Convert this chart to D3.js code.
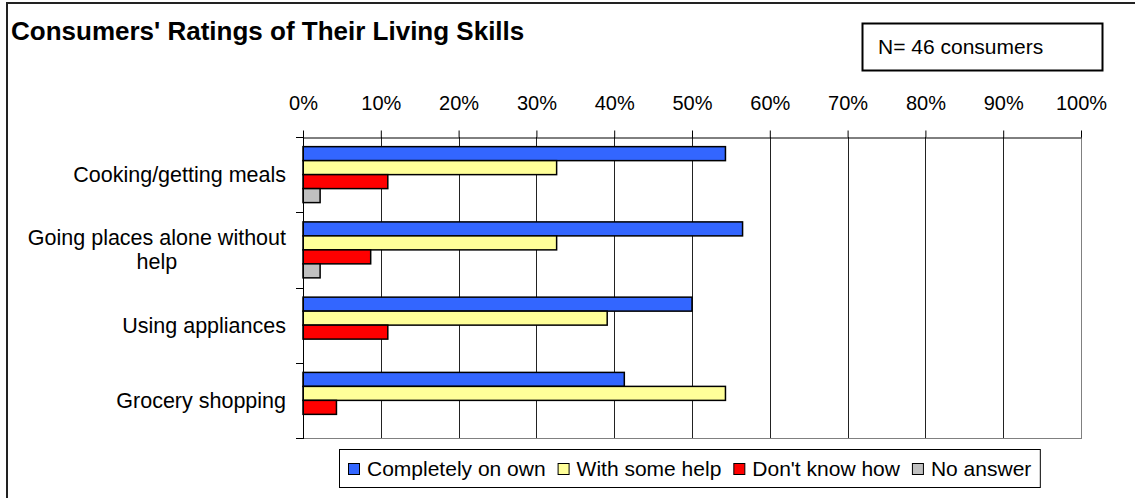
<!DOCTYPE html>
<html>
<head>
<meta charset="utf-8">
<script src="https://cdn.jsdelivr.net/npm/d3@7"></script>
<style>
  body { margin: 0; background: #fff; }
  svg text { font-family: "Liberation Sans", Arial, sans-serif; fill: #000; }
</style>
</head>
<body>
<div class="chart"></div>
<script>
//Canvas size
var width = 1135,
    height = 498;

//Plot area inside the canvas
var plot = { left: 303, right: 1081, top: 137, bottom: 438 };

//Data: share of the 46 consumers in each answer group
var categories = ["Cooking/getting meals", "Going places alone without help", "Using appliances", "Grocery shopping"];
var series = ["Completely on own", "With some help", "Don't know how", "No answer"];
var completelyOnOwn = [0.543, 0.565, 0.500, 0.413];
var withSomeHelp = [0.326, 0.326, 0.391, 0.543];
var dontKnowHow = [0.109, 0.087, 0.109, 0.043];
var noAnswer = [0.022, 0.022, 0, 0];
var xTicks = [0, 0.1, 0.2, 0.3, 0.4, 0.5, 0.6, 0.7, 0.8, 0.9, 1];
var colors = ["#3366ff", "#ffff99", "#ff0000", "#c0c0c0"];

var values = [completelyOnOwn, withSomeHelp, dontKnowHow, noAnswer];

//SVG canvas
var svg = d3.select(".chart")
            .append("svg")
            .attr("width", width)
            .attr("height", height);

//Outer chart frame (cut off on the right and bottom like the original)
svg.append("rect")
   .attr("x", 7)
   .attr("y", 3)
   .attr("width", width + 10)
   .attr("height", height + 10)
   .attr("fill", "none")
   .attr("stroke", "#222")
   .attr("stroke-width", 2);

//Title
svg.append("text")
   .attr("x", 11)
   .attr("y", 40)
   .style("font-size", "26px")
   .style("font-weight", "bold")
   .text("Consumers' Ratings of Their Living Skills");

//N box
svg.append("rect")
   .attr("x", 862.5)
   .attr("y", 23.5)
   .attr("width", 240)
   .attr("height", 47)
   .attr("fill", "#fff")
   .attr("stroke", "#000")
   .attr("stroke-width", 2);

svg.append("text")
   .attr("x", 878)
   .attr("y", 54)
   .style("font-size", "21px")
   .text("N= 46 consumers");

//Scales
var x = d3.scaleLinear().domain([0, 1]).range([plot.left, plot.right]);
var y = d3.scaleBand().domain(categories).range([plot.top, plot.bottom]);
var ySeries = d3.scaleBand().domain(series).range([0, y.bandwidth()]).paddingOuter(0.69);

//Gridlines
svg.append("g")
   .selectAll("line")
   .data(xTicks.slice(1))
   .enter()
   .append("line")
   .attr("x1", function(d) { return Math.round(x(d)) + 0.5; })
   .attr("x2", function(d) { return Math.round(x(d)) + 0.5; })
   .attr("y1", plot.top)
   .attr("y2", plot.bottom)
   .attr("stroke", function(d) { return d === 1 ? "#808080" : "#222"; })
   .attr("stroke-width", 1);

//Plot area bottom border
svg.append("line")
   .attr("x1", plot.left)
   .attr("x2", plot.right + 1)
   .attr("y1", plot.bottom + 0.5)
   .attr("y2", plot.bottom + 0.5)
   .attr("stroke", "#808080");

//Bars
var groups = svg.append("g")
                .selectAll("g")
                .data(series)
                .enter()
                .append("g")
                .attr("fill", function(d, i) { return colors[i]; });

groups.selectAll("rect")
      .data(function(s, i) {
        return values[i].map(function(v, j) { return { series: s, category: categories[j], value: v }; });
      })
      .enter()
      .filter(function(d) { return d.value > 0; })
      .append("rect")
      .attr("x", x(0))
      .attr("y", function(d) { return y(d.category) + ySeries(d.series); })
      .attr("width", function(d) { return x(d.value) - x(0); })
      .attr("height", ySeries.bandwidth())
      .attr("stroke", "#000")
      .attr("stroke-width", 1.5);

//Top axis
var xAxis = svg.append("g")
               .attr("transform", "translate(0," + (plot.top + 0.5) + ")")
               .call(d3.axisTop(x).tickValues(xTicks).tickFormat(d3.format(".0%")).tickSizeInner(7).tickSizeOuter(0).tickPadding(21));

xAxis.select(".domain").attr("stroke", "#000");
xAxis.selectAll(".tick line").attr("stroke", "#000");
xAxis.selectAll(".tick text")
     .style("font-size", "20px")
     .attr("font-family", null);

//Left axis line and ticks at band boundaries
svg.append("line")
   .attr("x1", plot.left + 0.5)
   .attr("x2", plot.left + 0.5)
   .attr("y1", plot.top)
   .attr("y2", plot.bottom + 1)
   .attr("stroke", "#000");

var bounds = categories.map(function(c) { return y(c); }).concat([plot.bottom]);
svg.append("g")
   .selectAll("line")
   .data(bounds)
   .enter()
   .append("line")
   .attr("x1", plot.left - 7)
   .attr("x2", plot.left)
   .attr("y1", function(d) { return Math.round(d) + 0.5; })
   .attr("y2", function(d) { return Math.round(d) + 0.5; })
   .attr("stroke", "#000");

//Category labels (long ones wrap onto two centred lines)
var wrapped = { "Going places alone without help": ["Going places alone without", "help"] };
var labelRight = 286;
categories.forEach(function(c) {
  var lines = wrapped[c] || [c];
  var cy = y(c) + y.bandwidth() / 2;
  var g = svg.append("g");
  var texts = lines.map(function(l, i) {
    return g.append("text")
            .attr("y", cy + (i - (lines.length - 1) / 2) * 24)
            .attr("dy", "0.35em")
            .style("font-size", "21.5px")
            .text(l);
  });
  var maxW = d3.max(texts, function(t) { return t.node().getComputedTextLength(); });
  texts.forEach(function(t) {
    t.attr("x", labelRight - maxW / 2).attr("text-anchor", "middle");
  });
});

//Legend
var legend = svg.append("g");
var legendBox = legend.append("rect")
                      .attr("y", 449.5)
                      .attr("height", 38)
                      .attr("fill", "#fff")
                      .attr("stroke", "#000")
                      .attr("stroke-width", 1);

var lx = 348;
series.forEach(function(s, i) {
  legend.append("rect")
        .attr("x", lx + 0.5)
        .attr("y", 463.5)
        .attr("width", 11)
        .attr("height", 11)
        .attr("fill", colors[i])
        .attr("stroke", "#000");
  var t = legend.append("text")
                .attr("x", lx + 19)
                .attr("y", 469)
                .attr("dy", "0.35em")
                .style("font-size", "21px")
                .text(s);
  lx += 19 + t.node().getComputedTextLength() + 12;
});
legendBox.attr("x", 339.5).attr("width", lx - 12 + 9 - 339.5);
</script>
</body>
</html>
